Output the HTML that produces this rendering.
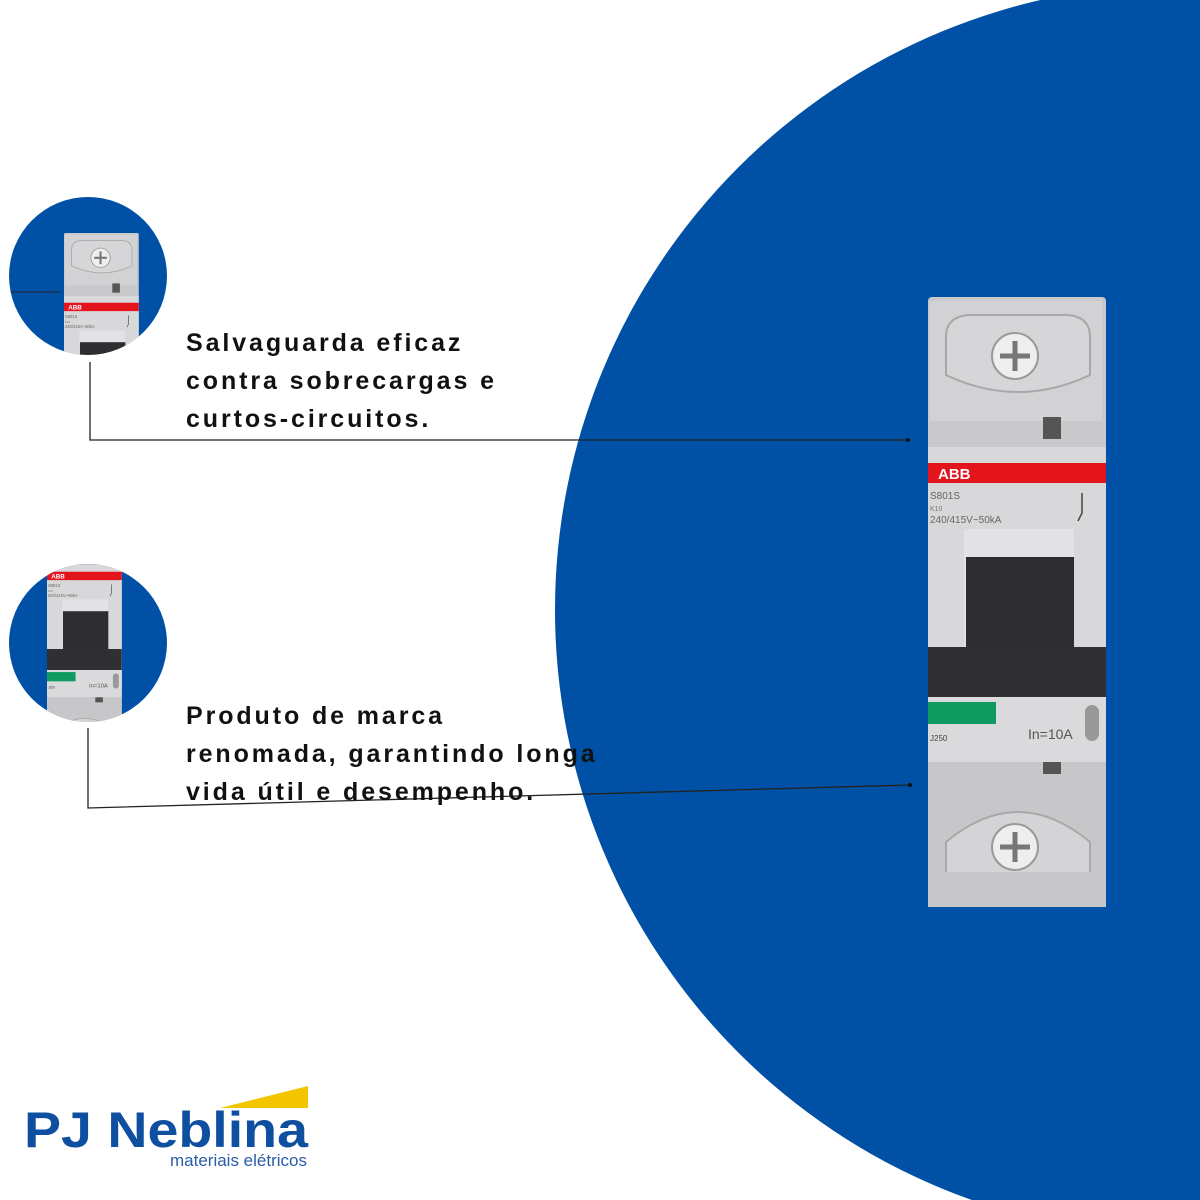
<!DOCTYPE html>
<html><head><meta charset="utf-8"><style>
html,body{margin:0;padding:0;background:#fff}
.t{position:absolute;left:186px;font-family:"Liberation Sans",sans-serif;font-weight:bold;font-size:25px;letter-spacing:2.9px;line-height:38px;color:#111;white-space:nowrap}
</style></head><body>
<div style="position:relative;width:1200px;height:1200px;overflow:hidden">
<svg width="1200" height="1200" style="position:absolute;left:0;top:0">
<defs>
<g id="brk">
 <rect x="0" y="0" width="178" height="610" rx="4" fill="#c9c9cb"/>
 <rect x="2" y="4" width="172" height="120" fill="#d2d2d4"/>
 <path d="M18 40 Q18 20 40 18 L140 18 Q162 20 162 40 L162 78 Q90 112 18 78 Z" fill="#d6d6d8" stroke="#a8a8aa" stroke-width="2"/>
 <circle cx="87" cy="59" r="23" fill="#eee" stroke="#999" stroke-width="2"/>
 <path d="M72 59 H102 M87 44 V74" stroke="#777" stroke-width="5"/>
 <rect x="115" y="120" width="18" height="22" fill="#555"/>
 <rect x="0" y="150" width="178" height="300" fill="#d8d8da"/>
 <rect x="0" y="166" width="178" height="20" fill="#e4141c"/>
 <text x="10" y="182" font-family="Liberation Sans" font-weight="bold" font-size="15" fill="#fff">ABB</text>
 <text x="2" y="202" font-family="Liberation Sans" font-size="10" fill="#666">S801S</text>
 <text x="2" y="214" font-family="Liberation Sans" font-size="7" fill="#777">K10</text>
 <text x="2" y="226" font-family="Liberation Sans" font-size="10" fill="#666">240/415V~50kA</text>
 <path d="M154 196 v20 l-4 8" stroke="#444" stroke-width="1.5" fill="none"/>
 <rect x="36" y="232" width="110" height="200" fill="#e2e2e4"/>
 <rect x="38" y="260" width="108" height="100" fill="#2e2e30"/>
 <rect x="0" y="350" width="178" height="50" fill="#303032"/>
 <rect x="0" y="400" width="178" height="65" fill="#dadadc"/>
 <rect x="0" y="405" width="68" height="22" fill="#0e9a60"/>
 <text x="100" y="442" font-family="Liberation Sans" font-size="14" fill="#555">In=10A</text>
 <rect x="157" y="408" width="14" height="36" rx="7" fill="#999"/>
 <text x="2" y="444" font-family="Liberation Sans" font-size="8" fill="#444">J250</text>
 <rect x="0" y="465" width="178" height="145" fill="#c7c7c9"/>
 <rect x="115" y="465" width="18" height="12" fill="#555"/>
 <path d="M18 575 L18 545 Q90 485 162 545 L162 575" fill="#d4d4d6" stroke="#a8a8aa" stroke-width="2"/>
 <circle cx="87" cy="550" r="23" fill="#eee" stroke="#999" stroke-width="2"/>
 <path d="M72 550 H102 M87 535 V565" stroke="#777" stroke-width="5"/>
</g>
<clipPath id="c1"><circle cx="88" cy="276" r="79"/></clipPath>
<clipPath id="c2"><circle cx="88" cy="643" r="79"/></clipPath>
</defs>
<circle cx="1181" cy="610" r="626" fill="#0051a5"/>
<use href="#brk" transform="translate(928,297)"/>
<g clip-path="url(#c1)">
 <rect x="0" y="190" width="180" height="180" fill="#0051a5"/>
 <use href="#brk" transform="translate(64,233) scale(0.42)"/>
 <line x1="10" y1="292" x2="60" y2="292" stroke="#222" stroke-width="1"/>
</g>
<g clip-path="url(#c2)">
 <rect x="0" y="560" width="180" height="180" fill="#0051a5"/>
 <use href="#brk" transform="translate(47,502) scale(0.42)"/>
</g>
<path d="M90 362 V440 H908" fill="none" stroke="#222" stroke-width="1.3"/>
<circle cx="908" cy="440" r="2" fill="#111"/>
<path d="M88 728 V808 L910 785" fill="none" stroke="#222" stroke-width="1.3"/>
<circle cx="910" cy="785" r="2" fill="#111"/>
<polygon points="220,1108 308,1086 308,1108" fill="#f2c500"/>
<text x="24" y="1147" font-family="Liberation Sans" font-weight="bold" font-size="50" fill="#0e4fa0" textLength="284" lengthAdjust="spacingAndGlyphs">PJ Neblina</text>
<text x="307" y="1166" text-anchor="end" font-family="Liberation Sans" font-size="17" fill="#2a5ca8">materiais elétricos</text>
</svg>
<div class="t" style="top:324px">Salvaguarda eficaz<br>contra sobrecargas e<br>curtos-circuitos.</div>
<div class="t" style="top:697px">Produto de marca<br>renomada, garantindo longa<br>vida útil e desempenho.</div>
</div>
</body></html>
